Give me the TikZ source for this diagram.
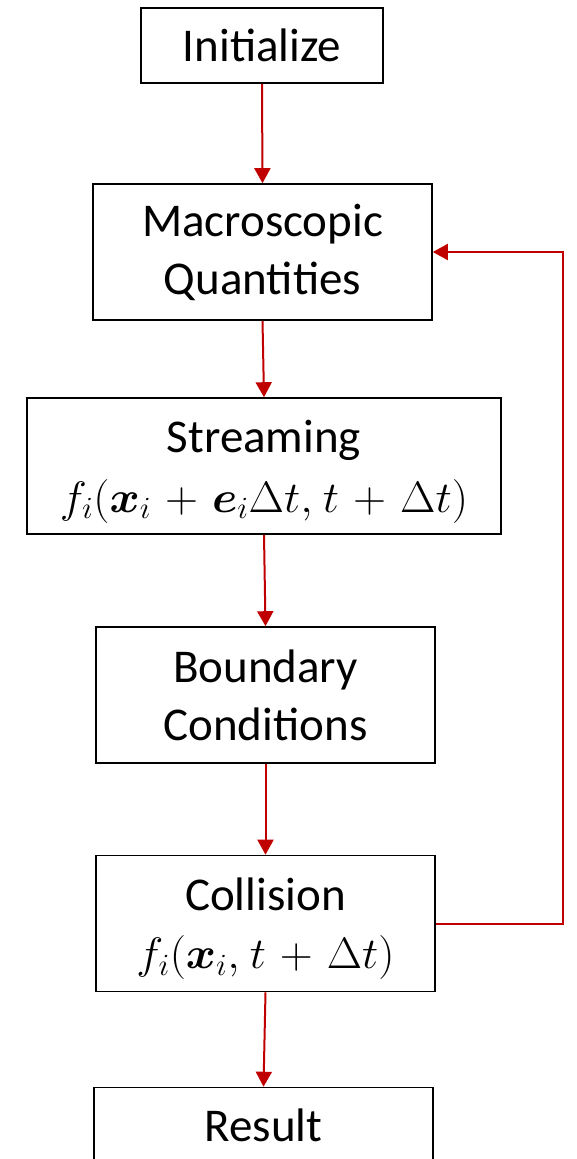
\RequirePackage{fix-cm}
\documentclass[tikz,border=0pt]{standalone}
\usepackage{amsmath}
\usepackage{bm}
\usepackage{graphicx}
\usepackage{fontspec}
\setmainfont{Carlito}
\usetikzlibrary{arrows.meta}
\definecolor{flowred}{HTML}{C00000}
% formula set a little smaller and spread out to a given width
\newcommand{\spreadeq}[2]{{\fontsize{44}{58}\selectfont
  \medmuskip=5.5mu\thinmuskip=4mu
  \smash[b]{\resizebox{#1}{\height}{$#2$}}}}
\tikzset{
  stepbox/.style={draw=black, line width=1.6pt, fill=white, inner sep=0pt,
    align=center, font=\fontsize{47}{58}\selectfont},
  flow/.style={draw=flowred, line width=2pt,
    -{Triangle[length=15pt,width=16pt]}}
}
\begin{document}
\begin{tikzpicture}[x=1pt,y=-1pt]
\useasboundingbox (0,0) rectangle (577,1159);
\begin{scope}
\clip (0,0) rectangle (577,1159);
\node[stepbox, minimum width=242pt, minimum height=75pt] (init) at (262,45.5) {Initialize};
\node[stepbox, minimum width=339pt, minimum height=136pt] (macro) at (262.5,252) {Macroscopic\\Quantities};
\node[stepbox, minimum width=474pt, minimum height=136pt] (stream) at (264,466)
  {Streaming\\[2pt]\spreadeq{408pt}{f_i(\bm{x}_i+\bm{e}_i\Delta t,t+\Delta t)}};
\node[stepbox, minimum width=339pt, minimum height=136pt] (bound) at (265.5,695) {Boundary\\Conditions};
\node[stepbox, minimum width=339pt, minimum height=136pt] (coll) at (265.5,923.5)
  {Collision\\\spreadeq{258pt}{f_i(\bm{x}_i,t+\Delta t)}};
\node[stepbox, minimum width=339pt, minimum height=75pt] (result) at (263.5,1125) {Result};
\end{scope}
\coordinate (loopR) at (563,923.5);
\coordinate (loopT) at (563,252);
\draw[flow] (init.south) -- (macro.north);
\draw[flow] (macro.south) -- (stream.north);
\draw[flow] (stream.south) -- (bound.north);
\draw[flow] (bound.south) -- (coll.north);
\draw[flow] (coll.south) -- (result.north);
\draw[flow] (coll.east) -- (loopR) -- (loopT) -- (macro.east);
\end{tikzpicture}
\end{document}
